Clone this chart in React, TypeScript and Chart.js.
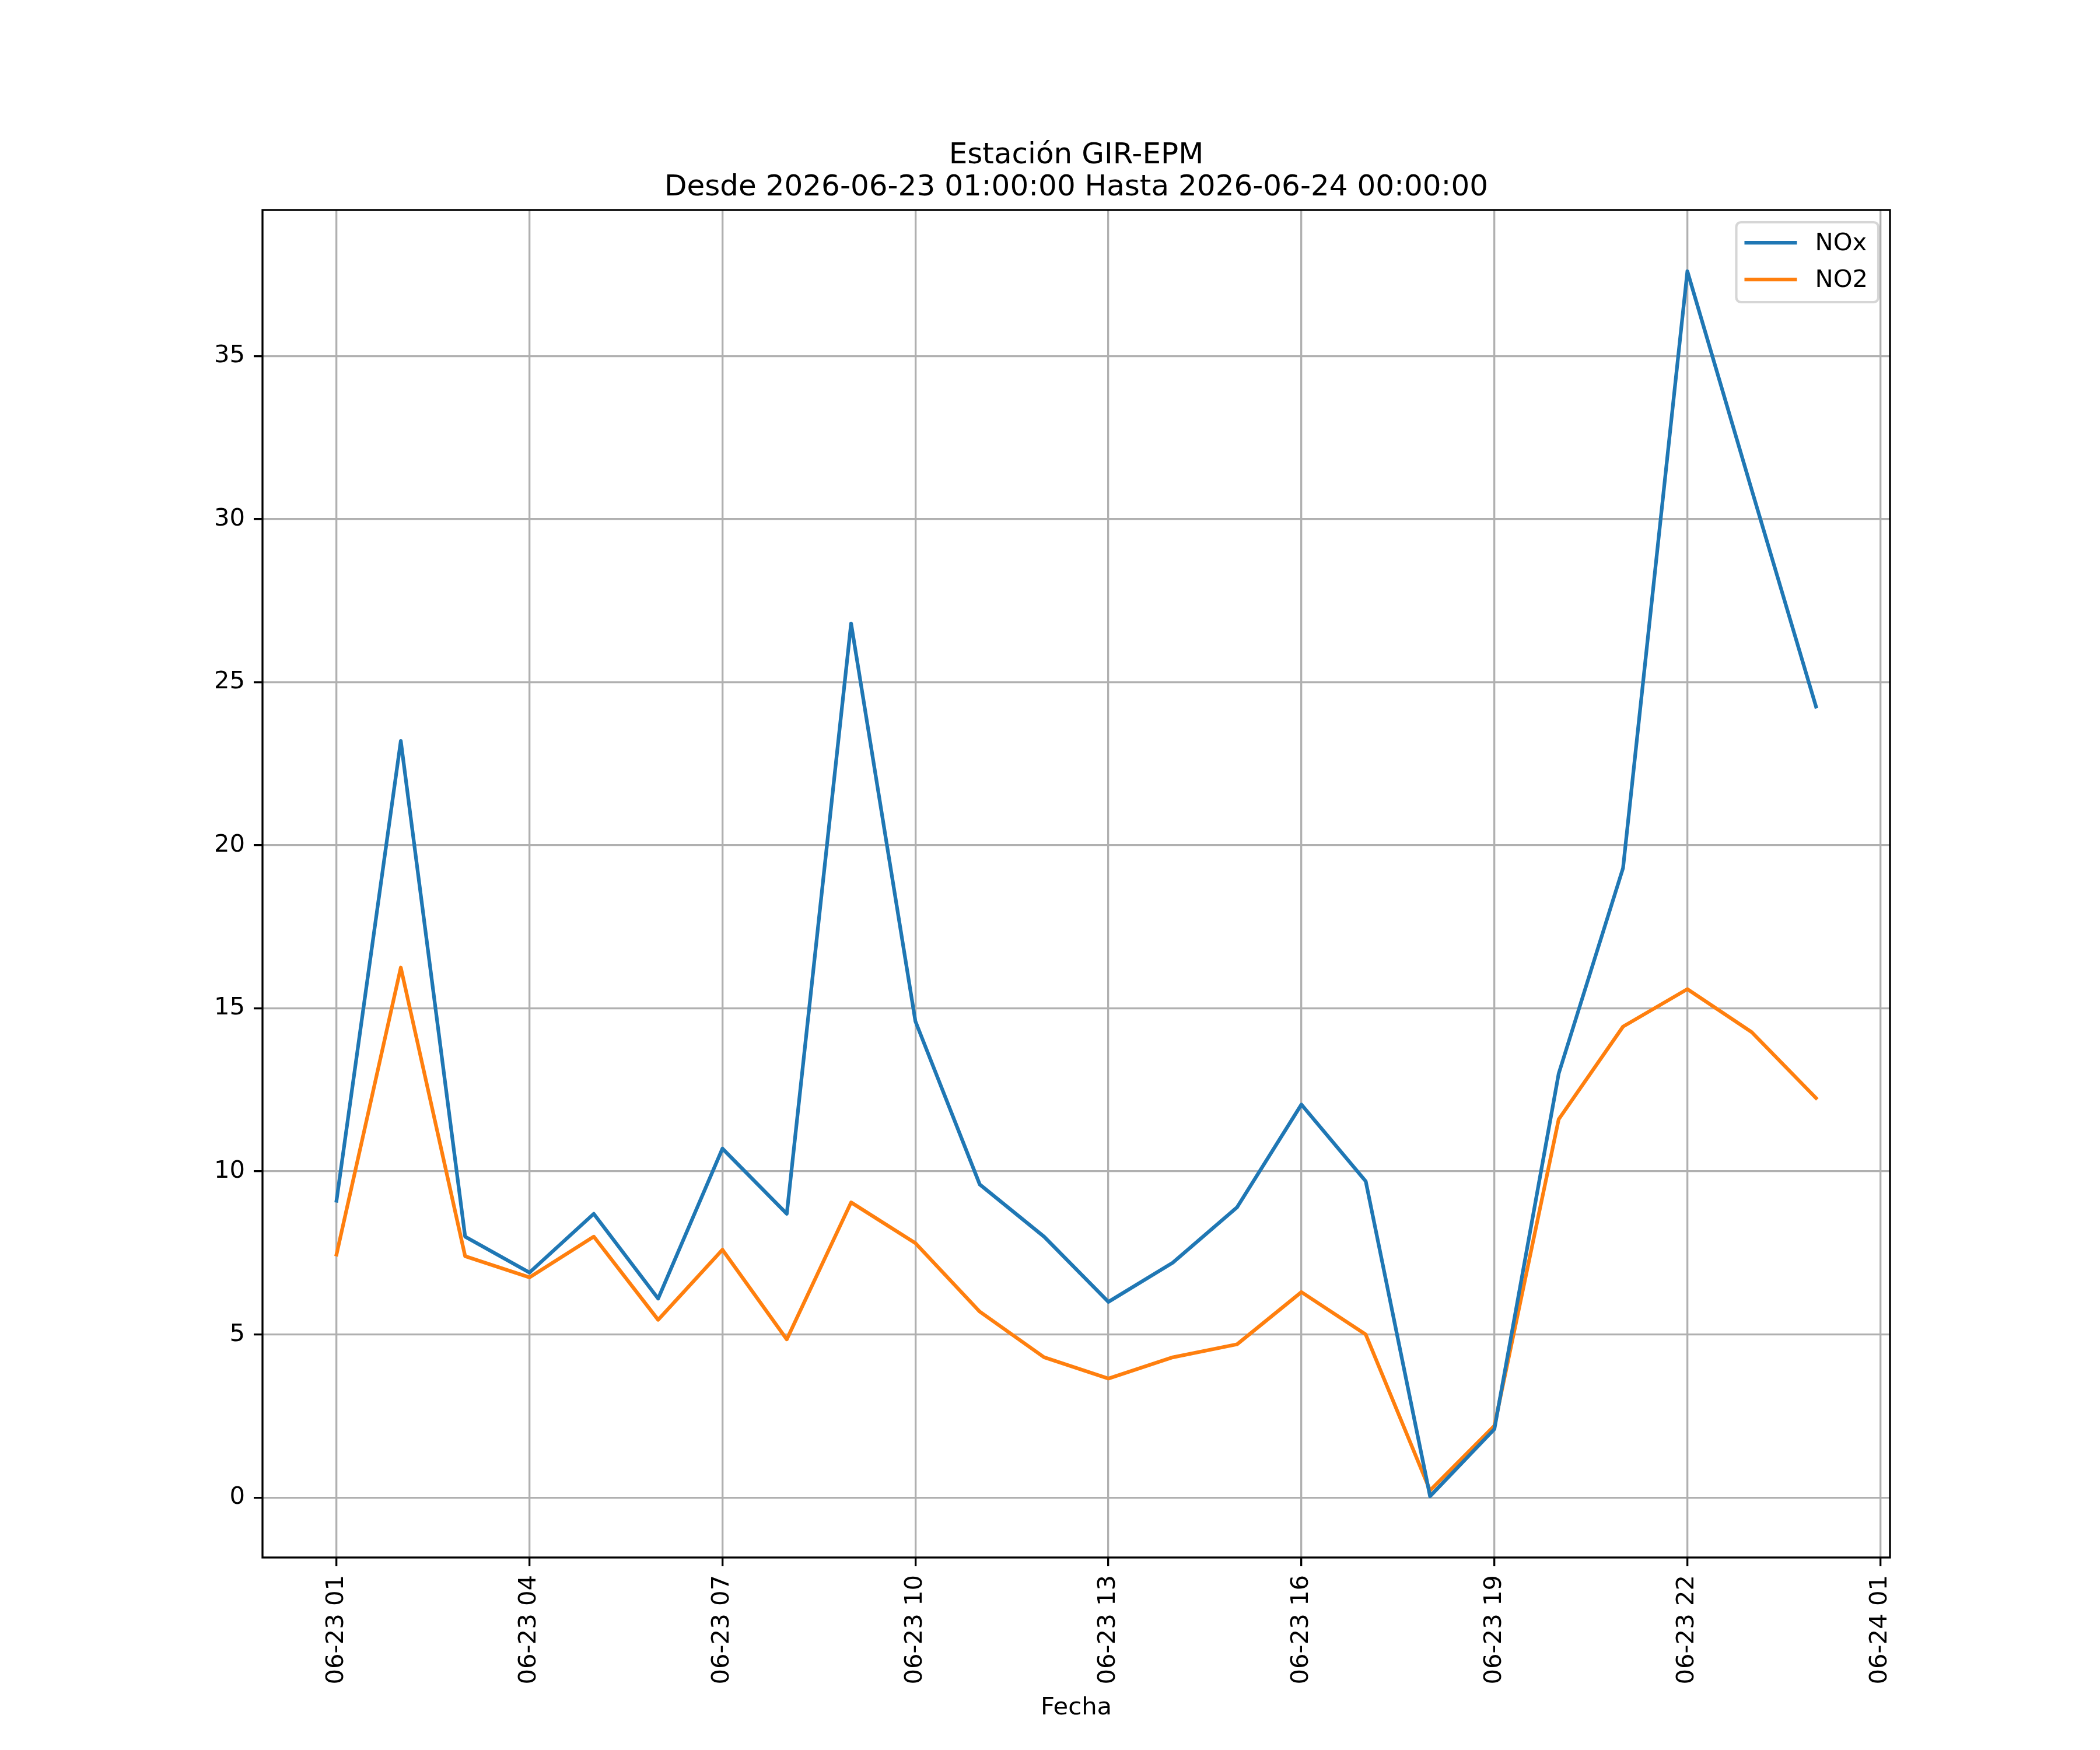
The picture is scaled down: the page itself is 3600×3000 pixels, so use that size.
import { useEffect, useRef } from "react";
import Chart from "chart.js/auto";

// hours after 2026-06-23 00:00 (1 = 06-23 01:00, 24 = 06-24 00:00)
const hours = [1, 2, 3, 4, 5, 6, 7, 8, 9, 10, 11, 12, 13, 14, 15, 16, 17, 18, 19, 20, 21, 22, 23, 24];

const noxValues = [
  9.1, 23.2, 8.0, 6.9, 8.7, 6.1, 10.7, 8.7, 26.8, 14.6, 9.6, 8.0,
  6.0, 7.2, 8.9, 12.05, 9.7, 0.04, 2.1, 13.0, 19.3, 37.6, 30.9, 24.25,
];
const no2Values = [
  7.45, 16.25, 7.4, 6.75, 8.0, 5.45, 7.6, 4.85, 9.05, 7.8, 5.7, 4.3,
  3.65, 4.3, 4.7, 6.3, 5.0, 0.22, 2.2, 11.6, 14.44, 15.59, 14.27, 12.25,
];

const xTickHours = [1, 4, 7, 10, 13, 16, 19, 22, 25];
const xTickLabels = [
  "06-23 01", "06-23 04", "06-23 07", "06-23 10", "06-23 13",
  "06-23 16", "06-23 19", "06-23 22", "06-24 01",
];
const yTicks = [0, 5, 10, 15, 20, 25, 30, 35];

const titleLines = ["Estación GIR-EPM", "Desde 2026-06-23 01:00:00 Hasta 2026-06-24 00:00:00"];

const FONT = "'DejaVu Sans', sans-serif";
const SMALL = 41.7;

// frame round the plot area (matplotlib spines)
const framePlugin = {
  id: "frame",
  afterDatasetsDraw(chart: any) {
    const { ctx, chartArea } = chart;
    ctx.save();
    ctx.strokeStyle = "#000";
    ctx.lineWidth = 3.33;
    ctx.strokeRect(chartArea.left, chartArea.top, chartArea.right - chartArea.left, chartArea.bottom - chartArea.top);
    ctx.restore();
  },
};

// legend box in the upper right corner
const boxLegend = {
  id: "boxLegend",
  afterDraw(chart: any) {
    const { ctx, chartArea } = chart;
    const sets = chart.data.datasets;
    ctx.save();
    ctx.font = `${SMALL}px ${FONT}`;
    const textW = Math.max(...sets.map((d: any) => ctx.measureText(d.label).width));
    const w = 135 + textW + 18;
    const h = 137;
    const x = chartArea.right - 20 - w;
    const y = chartArea.top + 21;
    ctx.beginPath();
    ctx.roundRect(x, y, w, h, 8);
    ctx.fillStyle = "rgba(255,255,255,0.8)";
    ctx.fill();
    ctx.strokeStyle = "rgba(204,204,204,0.8)";
    ctx.lineWidth = 4.17;
    ctx.stroke();
    sets.forEach((d: any, i: number) => {
      const ry = y + 35 + i * 63;
      ctx.beginPath();
      ctx.moveTo(x + 14, ry);
      ctx.lineTo(x + 104, ry);
      ctx.strokeStyle = d.borderColor;
      ctx.lineWidth = 6.25;
      ctx.stroke();
      ctx.fillStyle = "#000";
      ctx.textBaseline = "middle";
      ctx.textAlign = "left";
      ctx.fillText(d.label, x + 135, ry + 2);
    });
    ctx.restore();
  },
};

export default function App() {
  const canvasRef = useRef<HTMLCanvasElement>(null);
  const chartRef = useRef<Chart | null>(null);

  useEffect(() => {
    if (!canvasRef.current) return;
    if (chartRef.current) chartRef.current.destroy();

    const all = [...noxValues, ...no2Values];
    const yLo = Math.min(...all);
    const yHi = Math.max(...all);
    const ySpan = yHi - yLo;
    const xSpan = hours[hours.length - 1] - hours[0];

    const tickFont = { family: FONT, size: SMALL, weight: "normal" as const };

    chartRef.current = new Chart(canvasRef.current, {
      type: "line",
      data: {
        datasets: [
          {
            label: "NOx",
            data: hours.map((h, i) => ({ x: h, y: noxValues[i] })),
            borderColor: "#1f77b4",
            backgroundColor: "#1f77b4",
            borderWidth: 6.25,
            borderJoinStyle: "round",
            borderCapStyle: "square",
            pointRadius: 0,
            tension: 0,
            fill: false,
          },
          {
            label: "NO2",
            data: hours.map((h, i) => ({ x: h, y: no2Values[i] })),
            borderColor: "#ff7f0e",
            backgroundColor: "#ff7f0e",
            borderWidth: 6.25,
            borderJoinStyle: "round",
            borderCapStyle: "square",
            pointRadius: 0,
            tension: 0,
            fill: false,
          },
        ],
      },
      options: {
        animation: false,
        responsive: false,
        devicePixelRatio: 1,
        layout: { padding: { left: 0, right: 360, top: 0, bottom: 0 } },
        plugins: {
          legend: { display: false },
          tooltip: { enabled: false },
          title: {
            display: true,
            fullSize: false,
            text: titleLines,
            color: "#000",
            font: { family: FONT, size: 50, weight: "normal", lineHeight: 1.1 },
            padding: { top: 240, bottom: 10 },
          },
        },
        scales: {
          x: {
            type: "linear",
            min: hours[0] - 0.05 * xSpan,
            max: hours[hours.length - 1] + 0.05 * xSpan,
            afterBuildTicks: (scale: any) => {
              scale.ticks = xTickHours.map((v) => ({ value: v }));
            },
            afterFit: (scale: any) => {
              scale.height = 330;
            },
            ticks: {
              autoSkip: false,
              minRotation: 90,
              maxRotation: 90,
              padding: 15,
              color: "#000",
              font: tickFont,
              callback: (_v: any, i: number) => xTickLabels[i],
            },
            grid: {
              color: "#b0b0b0",
              lineWidth: 3.33,
              tickColor: "#000",
              tickWidth: 3.33,
              tickLength: 15,
            },
            border: { display: false },
            title: {
              display: true,
              text: "Fecha",
              color: "#000",
              font: { family: FONT, size: SMALL, weight: "normal", lineHeight: 1.2 },
              padding: { top: 0, bottom: 47 },
            },
          },
          y: {
            type: "linear",
            min: yLo - 0.05 * ySpan,
            max: yHi + 0.05 * ySpan,
            afterBuildTicks: (scale: any) => {
              scale.ticks = yTicks.map((v) => ({ value: v }));
            },
            afterFit: (scale: any) => {
              scale.width = 450;
            },
            ticks: {
              padding: 15,
              color: "#000",
              font: tickFont,
              callback: (v: any) => String(v),
            },
            grid: {
              color: "#b0b0b0",
              lineWidth: 3.33,
              tickColor: "#000",
              tickWidth: 3.33,
              tickLength: 15,
            },
            border: { display: false },
          },
        },
      },
      plugins: [framePlugin, boxLegend],
    });

    return () => {
      if (chartRef.current) chartRef.current.destroy();
      chartRef.current = null;
    };
  }, []);

  return (
    <div style={{ position: "absolute", left: 0, top: 0, width: 3600, height: 3000, background: "#fff" }}>
      <canvas ref={canvasRef} width={3600} height={3000} />
    </div>
  );
}
